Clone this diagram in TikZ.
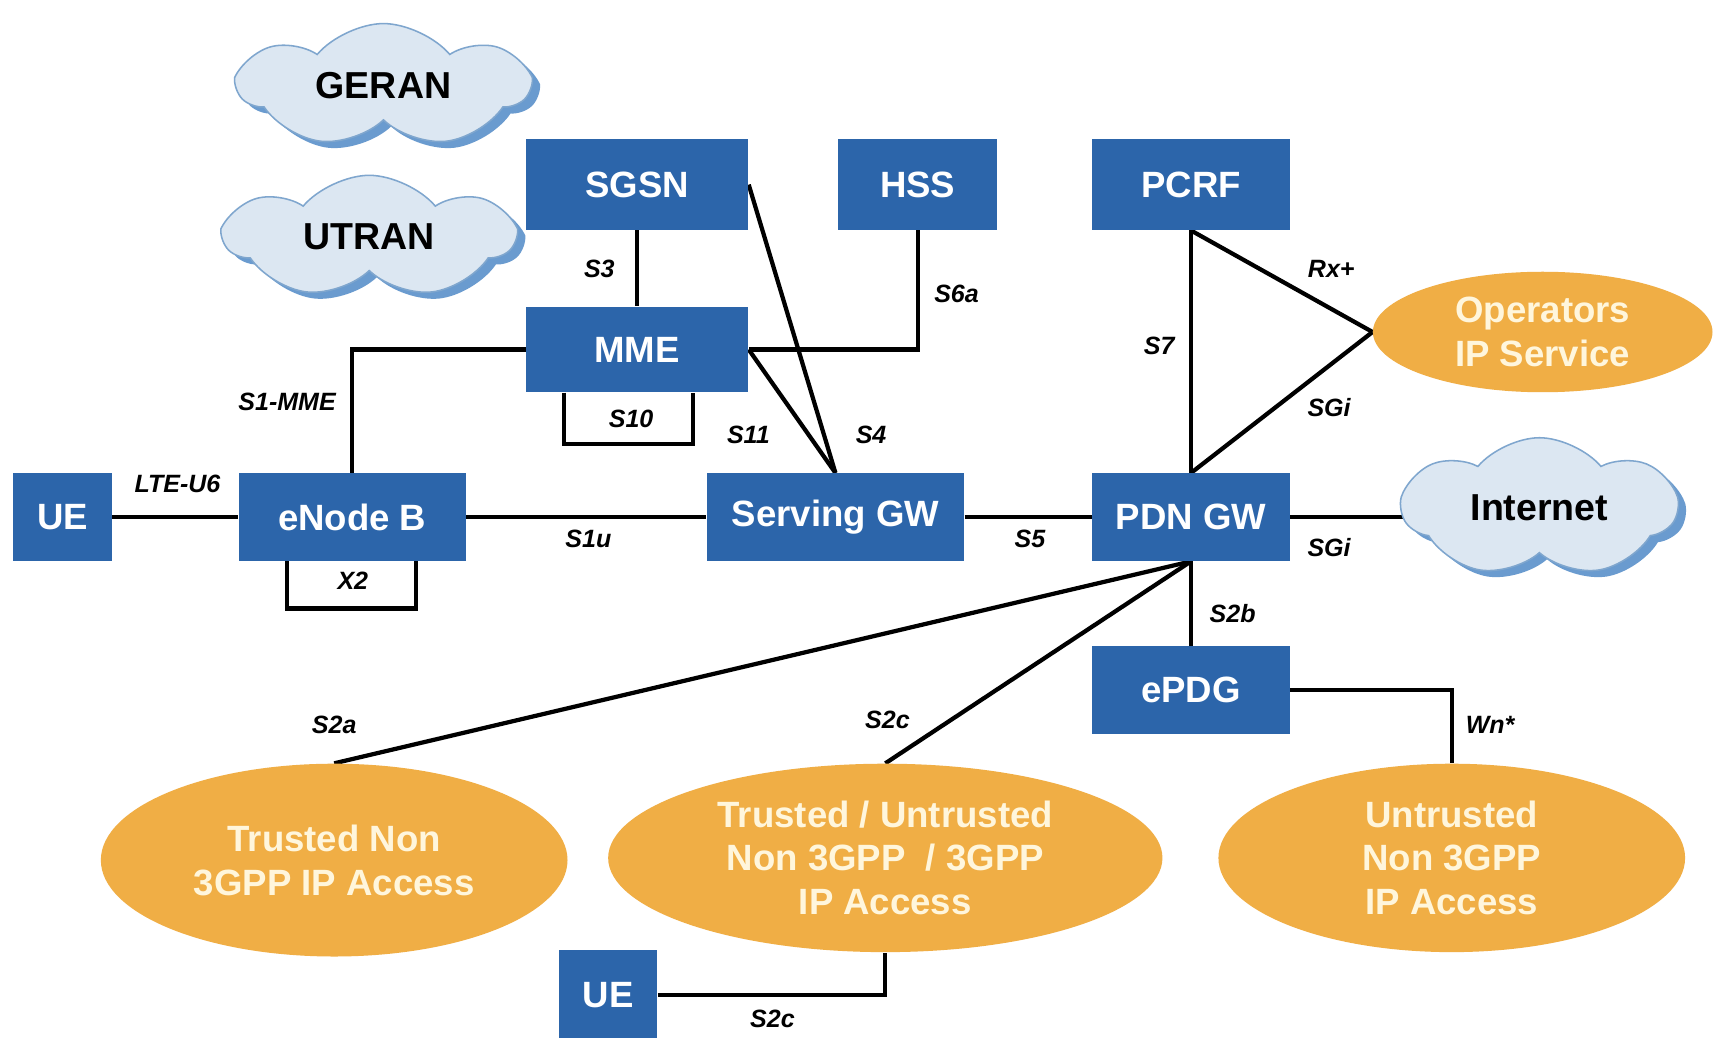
\documentclass[tikz,border=0pt]{standalone}
\usepackage{fontspec}
\setmainfont{Liberation Sans}
\usetikzlibrary{shapes.geometric,shapes.symbols,calc}
\pgfdeclarelayer{bg}
\pgfsetlayers{bg,main}
\definecolor{boxblue}{HTML}{2C65AA}
\definecolor{accorange}{HTML}{F0AE45}
\definecolor{creamtxt}{HTML}{FFF6DC}
\definecolor{cloudfill}{HTML}{DCE7F2}
\definecolor{cloudline}{HTML}{7FA6CE}
\definecolor{cloudshadow}{HTML}{6A9BCF}
\begin{document}
\begin{tikzpicture}[x=0.02cm,y=-0.02cm,
 netbox/.style={rectangle, fill=boxblue, text=white, font=\fontsize{19}{22}\selectfont\bfseries, inner sep=0pt},
 accbox/.style={ellipse, fill=accorange, text=creamtxt, font=\fontsize{19}{22.7}\selectfont\bfseries, align=center, inner sep=0pt},
 cloudbox/.style={cloud, cloud puffs=7, cloud puff arc=100, cloud ignores aspect, fill=cloudfill, draw=cloudline, line width=0.8pt, font=\fontsize{19.5}{22}\selectfont\bfseries, inner sep=0pt},
 cloudshade/.style={cloud, cloud puffs=7, cloud puff arc=100, cloud ignores aspect, fill=cloudshadow, inner sep=0pt},
 link/.style={line width=2.2pt, black},
 lbl/.style={font=\fontsize{13}{15}\selectfont\bfseries\itshape, inner sep=0pt}
]
\clip (0,0) rectangle (1568,947);

% clouds
\node[cloudshade, minimum width=5.28cm, minimum height=2.26cm] (geranS) at (357,84) {};
\node[cloudbox, minimum width=5.28cm, minimum height=2.26cm] (geran) at (350,78) {GERAN};
\node[cloudshade, minimum width=5.26cm, minimum height=2.24cm] (utranS) at (344,222) {};
\node[cloudbox, minimum width=5.26cm, minimum height=2.24cm] (utran) at (337,216) {UTRAN};
\node[cloudshade, minimum width=5.0cm, minimum height=2.54cm] (inetS) at (1412,469) {};
\node[cloudbox, minimum width=5.0cm, minimum height=2.54cm] (inet) at (1405,463) {Internet};

% boxes
\node[netbox, minimum width=4.06cm, minimum height=1.66cm] (sgsn) at (581.5,168.5) {SGSN};
\node[netbox, minimum width=2.9cm, minimum height=1.66cm] (hss) at (837.5,168.5) {HSS};
\node[netbox, minimum width=3.6cm, minimum height=1.66cm] (pcrf) at (1087,168.5) {PCRF};
\node[netbox, minimum width=4.06cm, minimum height=1.56cm] (mme) at (581.5,319) {MME};
\node[netbox, minimum width=1.8cm, minimum height=1.6cm] (ue) at (57,472) {UE};
\node[netbox, minimum width=4.14cm, minimum height=1.6cm] (enb) at (321.5,472) {eNode B};
\node[netbox, minimum width=4.7cm, minimum height=1.6cm] (sgw) at (762.5,472) {Serving GW};
\node[netbox, minimum width=3.6cm, minimum height=1.6cm] (pdn) at (1087,472) {PDN GW};
\node[netbox, minimum width=3.6cm, minimum height=1.6cm] (epdg) at (1087,630) {ePDG};
\node[netbox, minimum width=1.8cm, minimum height=1.64cm] (ue2) at (555,908) {UE};

% ellipses
\node[accbox, minimum width=6.2cm, minimum height=2.2cm] (ops) at (1408,303) {Operators\\IP Service};
\node[accbox, minimum width=8.52cm, minimum height=3.52cm] (tn) at (305,785) {Trusted Non\\3GPP IP Access};
\node[accbox, minimum width=10.12cm, minimum height=3.44cm] (tu) at (808,783) {Trusted / Untrusted\\Non 3GPP~ / 3GPP\\IP Access};
\node[accbox, minimum width=8.52cm, minimum height=3.44cm] (un) at (1325,783) {Untrusted\\Non 3GPP\\IP Access};

% connectors
\begin{pgfonlayer}{bg}
\fill[white] (0,0) rectangle (1568,947);
\draw[link] (ue.east) -- (enb.west);
\draw[link] (enb.east) -- (sgw.west);
\draw[link] (sgw.east) -- (pdn.west);
\draw[link] (pdn.east) -- ($(inet.west |- pdn.east)+(15,0)$);
\draw[link] (sgsn.south) -- (mme.north);
\draw[link] (mme.west) -| (enb.north);
\draw[link] (hss.south) |- (mme.east);
\draw[link] (mme.east) -- (sgw.north);
\draw[link] (sgsn.east) -- (sgw.north);
\draw[link] (pcrf.south) -- (pdn.north);
\draw[link] (pcrf.south) -- (ops.west);
\draw[link] (pdn.north) -- (ops.west);
\draw[link] (pdn.south) -- (epdg.north);
\draw[link] (pdn.south) -- (tn.north);
\draw[link] (pdn.south) -- (tu.north);
\draw[link] (epdg.east) -| (un.north);
\draw[link] (ue2.east) -| (tu.south);
\draw[link] ($(mme.south west)+(35,0)$) -- ++(0,47) -| ($(mme.south west)+(153,0)$);
\draw[link] ($(enb.south west)+(44,0)$) -- ++(0,43) -| ($(enb.south west)+(162,0)$);
\end{pgfonlayer}

% labels
\node[lbl] (lLTE) at (162,442) {LTE-U6};
\node[lbl] (lS1MME) at (262,367) {S1-MME};
\node[lbl] (lS3) at (547,245) {S3};
\node[lbl] (lS10) at (576,382) {S10};
\node[lbl] (lS11) at (683,397) {S11};
\node[lbl] (lS4) at (795,397) {S4};
\node[lbl] (lS6a) at (873,268) {S6a};
\node[lbl] (lS1u) at (537,492) {S1u};
\node[lbl] (lX2) at (322,530) {X2};
\node[lbl] (lS5) at (940,492) {S5};
\node[lbl] (lS7) at (1058,316) {S7};
\node[lbl] (lRx) at (1215,245) {Rx+};
\node[lbl] (lSGi1) at (1213,372) {SGi};
\node[lbl] (lSGi2) at (1213,500) {SGi};
\node[lbl] (lS2b) at (1125,560) {S2b};
\node[lbl] (lS2a) at (305,662) {S2a};
\node[lbl] (lS2c1) at (810,657) {S2c};
\node[lbl] (lWn) at (1360,662) {Wn*};
\node[lbl] (lS2c2) at (705,930) {S2c};
\end{tikzpicture}
\end{document}
